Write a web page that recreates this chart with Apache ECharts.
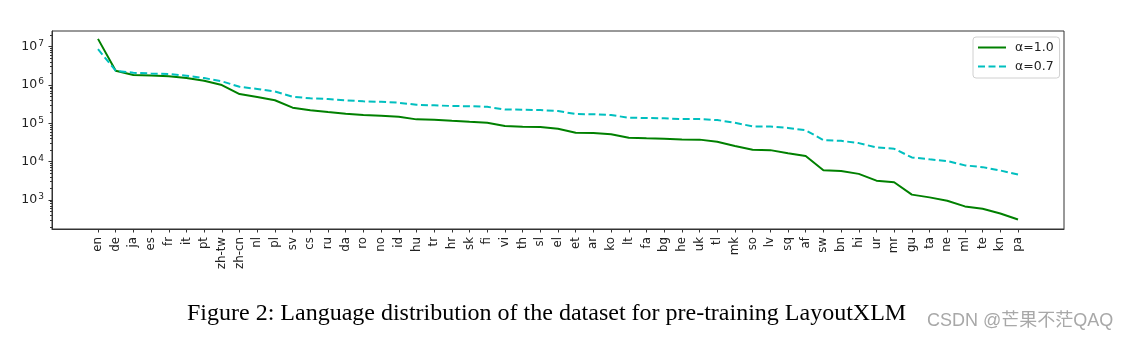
<!DOCTYPE html>
<html>
<head>
<meta charset="utf-8">
<script src="https://cdn.jsdelivr.net/npm/echarts@6/dist/echarts.min.js"></script>
<style>
  html, body { margin: 0; padding: 0; background: #fff; }
  #chart { width: 1128px; height: 340px; }
</style>
</head>
<body>
<div id="chart"></div>
<script>
const languages = ['en','de','ja','es','fr','it','pt','zh-tw','zh-cn','nl','pl','sv','cs','ru','da','ro','no','id','hu','tr','hr','sk','fi','vi','th','sl','el','et','ar','ko','lt','fa','bg','he','uk','tl','mk','so','lv','sq','af','sw','bn','hi','ur','mr','gu','ta','ne','ml','te','kn','pa'];

const alpha10 = [1.6e7, 2.36e6, 1.82e6, 1.77e6, 1.69e6, 1.52e6, 1.29e6, 1.0e6, 5.8e5, 4.9e5,
  4.0e5, 2.57e5, 2.19e5, 1.97e5, 1.78e5, 1.65e5, 1.58e5, 1.49e5, 1.27e5, 1.25e5,
  1.17e5, 1.10e5, 1.04e5, 8.5e4, 8.2e4, 8.0e4, 7.2e4, 5.7e4, 5.6e4, 5.2e4,
  4.2e4, 4.07e4, 3.98e4, 3.8e4, 3.76e4, 3.3e4, 2.57e4, 2.05e4, 2.0e4, 1.65e4,
  1.40e4, 6.0e3, 5.7e3, 4.8e3, 3.2e3, 2.9e3, 1.38e3, 1.17e3, 955, 680,
  590, 445, 310];

const alpha07 = [8.6e6, 2.36e6, 2.09e6, 2.0e6, 1.94e6, 1.75e6, 1.52e6, 1.25e6, 9.0e5, 7.9e5,
  6.8e5, 4.95e5, 4.5e5, 4.3e5, 4.0e5, 3.75e5, 3.66e5, 3.45e5, 3.06e5, 2.95e5,
  2.84e5, 2.8e5, 2.7e5, 2.3e5, 2.27e5, 2.22e5, 2.1e5, 1.75e5, 1.73e5, 1.65e5,
  1.40e5, 1.38e5, 1.36e5, 1.29e5, 1.29e5, 1.22e5, 1.04e5, 8.3e4, 8.3e4, 7.6e4,
  6.6e4, 3.67e4, 3.5e4, 3.05e4, 2.35e4, 2.17e4, 1.29e4, 1.15e4, 1.04e4, 8.0e3,
  7.2e3, 5.9e3, 4.6e3];

const seriesNames = ['α=1.0', 'α=0.7'];
const yTickExponents = [3, 4, 5, 6, 7];
const captionText = 'Figure 2: Language distribution of the dataset for pre-training LayoutXLM';
const watermarkText = 'CSDN @芒果不茫QAQ';

const idx = languages.map((_, i) => i);
const majorTicks = yTickExponents.map(e => Math.pow(10, e));
const minorTicks = [];
for (let e = 2; e <= 7; e++) {
  for (let m = 2; m <= 9; m++) minorTicks.push(m * Math.pow(10, e));
}

const chart = echarts.init(document.getElementById('chart'), null, { renderer: 'canvas' });
const axisColor = '#333';
const yMin = 175, yMax = 2.57e7;

chart.setOption({
  animation: false,
  backgroundColor: '#fff',
  textStyle: { fontFamily: 'DejaVu Sans' },
  grid: {
    left: 52, right: 64, top: 31, height: 198,
    show: true, borderColor: axisColor, borderWidth: 1, backgroundColor: 'transparent'
  },
  legend: {
    orient: 'vertical',
    left: 973, top: 37,
    padding: [4, 6, 5, 4],
    itemWidth: 28, itemHeight: 14, itemGap: 6,
    backgroundColor: '#fff',
    borderColor: '#d0d0d0', borderWidth: 1, borderRadius: 3,
    itemStyle: { opacity: 0 },
    textStyle: { fontSize: 12.5, color: '#222', fontFamily: 'DejaVu Sans', padding: [0, 0, 0, 4] },
    data: seriesNames
  },
  xAxis: {
    type: 'value',
    min: -2.6, max: 54.6,
    axisLine: { show: true, onZero: false, lineStyle: { color: axisColor, width: 1 } },
    splitLine: { show: false },
    axisTick: { show: true, customValues: idx, length: 3.5, lineStyle: { color: axisColor } },
    axisLabel: {
      customValues: idx,
      rotate: 90,
      margin: 8,
      fontSize: 11.8,
      color: '#222',
      fontFamily: 'DejaVu Sans',
      formatter: v => languages[Math.round(v)] || ''
    }
  },
  yAxis: [{
    type: 'log',
    logBase: 10,
    min: yMin, max: yMax,
    axisLine: { show: true, onZero: false, lineStyle: { color: axisColor, width: 1 } },
    splitLine: { show: false },
    axisTick: { show: true, customValues: majorTicks, length: 3.5, lineStyle: { color: axisColor } },
    axisLabel: {
      customValues: majorTicks,
      margin: 8,
      color: '#222',
      formatter: v => {
        const e = Math.round(Math.log10(v));
        return '{b|10}{s|' + e + '}';
      },
      rich: {
        b: { fontSize: 12.5, color: '#222', fontFamily: 'DejaVu Sans' },
        s: { fontSize: 9, color: '#222', fontFamily: 'DejaVu Sans', verticalAlign: 'top', padding: [0, 0, 6, 1] }
      }
    }
  }, {
    type: 'log',
    logBase: 10,
    min: yMin, max: yMax,
    position: 'left',
    axisLine: { show: false, onZero: false },
    splitLine: { show: false },
    axisTick: { show: true, customValues: minorTicks, length: 2, lineStyle: { color: axisColor } },
    axisLabel: { show: false }
  }],
  series: [{
    name: seriesNames[0],
    type: 'line',
    yAxisIndex: 0,
    symbol: 'none',
    data: alpha10.map((v, i) => [i, v]),
    lineStyle: { color: '#008000', width: 2 },
    itemStyle: { color: '#008000' }
  }, {
    name: seriesNames[1],
    type: 'line',
    yAxisIndex: 0,
    symbol: 'none',
    data: alpha07.map((v, i) => [i, v]),
    lineStyle: { color: '#00BFBF', width: 2, type: [7, 3.5] },
    itemStyle: { color: '#00BFBF' }
  }],
  graphic: [{
    type: 'text',
    left: 187, top: 302,
    style: {
      text: captionText,
      font: '24px "Liberation Serif", "Times New Roman", serif',
      fill: '#000'
    }
  }, {
    type: 'text',
    left: 927, top: 312,
    style: {
      text: watermarkText,
      font: '18px "Liberation Sans", "Noto Sans CJK SC", sans-serif',
      fill: '#a8a8a8'
    }
  }]
});
</script>
</body>
</html>
